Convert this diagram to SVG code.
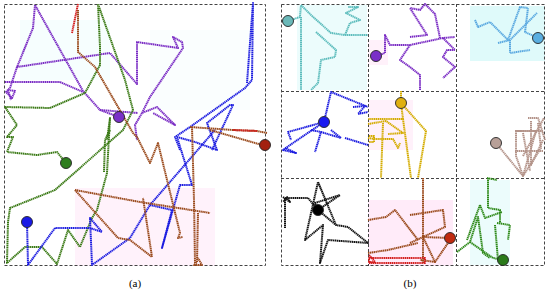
<svg xmlns="http://www.w3.org/2000/svg" width="550" height="291" viewBox="0 0 550 291">
<style>
.frame{fill:none;stroke:#444;stroke-width:1;stroke-dasharray:3 2}
.p{fill:none;stroke-width:2;stroke-linejoin:round;stroke-dasharray:1.4 0.5}
.pu{stroke:#7a2cc4}.gr{stroke:#3b7a16}.bl{stroke:#1c1ce0}.br{stroke:#9a4a1c}.rd{stroke:#d42020}
.cy{stroke:#5cbcbc}.lb{stroke:#5aa8e0}.go{stroke:#d4ac00}.ro{stroke:#b39389}.bk{stroke:#111}.g2{stroke:#2f8a1a}
.dot{stroke:#222;stroke-width:0.9}
.pink{fill:#ffe3f6}.cyan{fill:#d4f8f8}
.lbl{font-family:"Liberation Serif",serif;font-size:11px;fill:#000;text-anchor:middle}
</style>
<rect width="550" height="291" fill="#fff"/>
<g id="tints">
<rect class="pink" x="75" y="188" width="140" height="78" opacity="0.45"/>
<rect class="cyan" x="20" y="20" width="90" height="60" opacity="0.2"/>
<rect class="cyan" x="150" y="30" width="100" height="80" opacity="0.12"/>
<rect class="cyan" x="297" y="5" width="70" height="85" opacity="0.45"/>
<rect class="cyan" x="470" y="6" width="75" height="55" opacity="0.75"/>
<rect class="pink" x="368" y="200" width="85" height="66" opacity="0.7"/>
<rect class="cyan" x="470" y="180" width="40" height="85" opacity="0.45"/>
<rect class="pink" x="368" y="100" width="45" height="50" opacity="0.5"/>
<rect class="pink" x="368" y="40" width="20" height="25" opacity="0.5"/>
</g>
<g id="panel-a">
<rect class="frame" x="4.5" y="4.5" width="261" height="261"/>
<g id="connectors-a">
<polyline class="p pu" points="119,117 100,110 83,91 35,5 33,28 17,67 110,53 137,84 137,42 178,48 173,37 182,42 183,48 150,97 142,113 157,107 175,125 153,113"/>
<polyline class="p pu" points="142,113 135,125 137,140"/>
<polyline class="p pu" points="5,82 60,82 83,92"/>
<polyline class="p pu" points="100,110 138,113"/>
<polyline class="p pu" points="17,67 10,88 6,92 12,98 15,91 8,90 11,100"/>
<polyline class="p gr" points="66,163 57,152 37,155 7,152 13,137 7,137 17,125 5,107 50,108 85,93 100,65 100,47 98,4 125,80 133,110 123,130 55,190 10,208 8,222 7,263 25,247 42,247 57,264 68,230 80,247 92,218 97,210 107,173 110,118 107,140"/>
<polyline class="p gr" points="104,172 105,140 110,130"/>
<polyline class="p bl" points="27,222 28,265 55,228 90,228 102,232 90,218 92,265 130,238 150,205 172,210 162,248 180,185 192,185 177,137 195,142 217,150 207,123 230,105 233,105 212,150"/>
<polyline class="p bl" points="150,205 215,130"/>
<polyline class="p bl" points="180,150 175,137 190,127 245,88 252,80 253,3 247,83"/>
<polyline class="p rd" points="78,4 72,33"/>
<polyline class="p br" points="78,10 78,52 95,67 133,133 137,137 150,163 158,143 180,233 178,238 183,237"/>
<polyline class="p br" points="75,190 140,202 210,213"/>
<polyline class="p br" points="75,190 118,238 130,240 152,257 143,198"/>
<polyline class="p br" points="190,127 233,130 257,131 267,133"/>
<polyline class="p rd" points="233,130 257,131"/>
<polyline class="p br" points="210,130 262,145"/>
<polyline class="p br" points="192,127 194,200 195,263"/>
<polyline class="p br" points="198,213 197,262 194,265 202,265 198,258"/>
</g>
<g id="dots-a">
<circle class="dot" cx="119" cy="117" r="5.5" fill="#7a30c8"/>
<circle class="dot" cx="66" cy="163" r="5.5" fill="#2e7d1e"/>
<circle class="dot" cx="27" cy="222" r="5.5" fill="#1a1ae6"/>
<circle class="dot" cx="265" cy="145" r="5.5" fill="#a32010"/>
</g>
</g>
<g id="panel-b">
<rect class="frame" x="281.5" y="4.5" width="263" height="261"/>
<line class="frame" x1="368.5" y1="4" x2="368.5" y2="266"/>
<line class="frame" x1="456.5" y1="4" x2="456.5" y2="266"/>
<line class="frame" x1="281" y1="91.5" x2="545" y2="91.5"/>
<line class="frame" x1="281" y1="178.5" x2="545" y2="178.5"/>
<g id="connectors-b">
<polyline class="p cy" points="288,21 300,17 301,5 311,15 331,33 345,35 368,35"/>
<polyline class="p cy" points="345,35 350,23 360,20 346,13 358,7 348,7"/>
<polyline class="p cy" points="316,32 336,50 335,57 321,60 318,83 311,90"/>
<polyline class="p cy" points="301,17 301,90"/>
<polyline class="p pu" points="376,56 385,53 385,35 390,45 410,45 443,38 455,37"/>
<polyline class="p pu" points="410,37 427,35 410,8 420,10 425,4 435,14 440,38"/>
<polyline class="p pu" points="443,38 455,50 447,50 443,57 455,67 443,78"/>
<polyline class="p pu" points="410,45 400,60 410,67 420,75 420,90"/>
<polyline class="p lb" points="475,20 478,27 490,22 508,40 520,7 528,8 525,32 538,38"/>
<polyline class="p lb" points="498,43 510,40 537,13"/>
<polyline class="p lb" points="510,40 510,53 530,50"/>
<polyline class="p bl" points="324,122 331,92 368,107"/>
<polyline class="p bl" points="353,107 365,106 358,114 368,112"/>
<polyline class="p bl" points="324,122 293,143 283,150 296,153 285,148"/>
<polyline class="p bl" points="311,130 321,132 315,152"/>
<polyline class="p bl" points="321,132 341,138 331,130"/>
<polyline class="p bl" points="345,138 368,145"/>
<polyline class="p bl" points="324,122 288,132 291,140"/>
<polyline class="p go" points="401,91 401,103 426,131 418,178"/>
<polyline class="p go" points="401,103 403,119 368,119"/>
<polyline class="p go" points="403,119 411,178"/>
<polyline class="p go" points="368,124 386,121 403,133 388,134"/>
<polyline class="p go" points="383,123 381,178"/>
<polyline class="p go" points="368,138 375,139 393,139 398,148 400,143"/>
<polyline class="p go" points="369,136 374,136 374,142 369,142"/>
<polyline class="p ro" points="496,143 523,176 536,131 515,131"/>
<polyline class="p ro" points="515,131 543,131"/>
<polyline class="p ro" points="528,118 538,118 540,124 545,140"/>
<polyline class="p ro" points="516,131 516,156 523,176"/>
<polyline class="p ro" points="523,133 530,171"/>
<polyline class="p ro" points="531,121 531,165 543,140"/>
<polyline class="p ro" points="538,123 541,148 523,176"/>
<polyline class="p ro" points="515,151 543,151"/>
<polyline class="p ro" points="523,156 544,118"/>
</g>
<g id="connectors-b2">
<polyline class="p bk" points="285,228 285,198 308,198 318,210 315,203 340,195 318,210"/>
<polyline class="p bk" points="283,197 290,202 287,197 283,202"/>
<polyline class="p bk" points="318,210 336,225 318,182 305,240 323,225 320,263 328,240 368,243 348,227 336,225"/>
<polyline class="p br" points="368,220 386,217 395,210 418,240"/>
<polyline class="p br" points="368,253 388,250 418,243"/>
<polyline class="p br" points="423,178 423,263"/>
<polyline class="p br" points="410,215 443,210 445,227 423,237 450,238"/>
<polyline class="p br" points="410,243 423,237 435,262 420,260"/>
<polyline class="p br" points="435,262 448,243"/>
<polyline class="p rd" points="369,255 375,262 369,262 369,258 425,258 425,263 369,263"/>
<polyline class="p g2" points="487,178 497,180"/>
<polyline class="p g2" points="488,178 488,208 500,210 500,223"/>
<polyline class="p g2" points="480,205 485,218 502,212"/>
<polyline class="p g2" points="457,252 470,242 478,217 483,253 490,258"/>
<polyline class="p g2" points="470,242 493,258 503,260"/>
<polyline class="p g2" points="497,223 510,225 508,240"/>
<polyline class="p g2" points="495,225 498,260"/>
<polyline class="p g2" points="480,205 467,240"/>
</g>
<g id="dots-b">
<circle class="dot" cx="288" cy="21" r="5.5" fill="#6ab8b8"/>
<circle class="dot" cx="376" cy="56" r="5.5" fill="#7a2fc8"/>
<circle class="dot" cx="538" cy="38" r="5.5" fill="#5aaee0"/>
<circle class="dot" cx="324" cy="122" r="5.5" fill="#1a1af0"/>
<circle class="dot" cx="401" cy="103" r="5.5" fill="#e0b010"/>
<circle class="dot" cx="496" cy="143" r="5.5" fill="#b8a098"/>
<circle class="dot" cx="318" cy="210" r="5.5" fill="#000"/>
<circle class="dot" cx="450" cy="238" r="5.5" fill="#c02a10"/>
<circle class="dot" cx="503" cy="260" r="5.5" fill="#2a7a1a"/>
</g>
</g>
<text class="lbl" x="135" y="287">(a)</text>
<text class="lbl" x="410" y="287">(b)</text>
</svg>
